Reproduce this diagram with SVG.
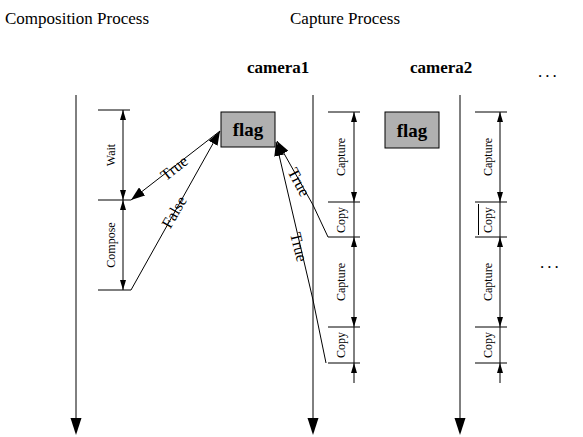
<svg xmlns="http://www.w3.org/2000/svg" width="583" height="437" viewBox="0 0 583 437">
<style>
.hdr{font-family:"Liberation Serif","Times New Roman",serif;font-size:17px;fill:#000}
.cam{font-family:"Liberation Serif","Times New Roman",serif;font-size:17px;font-weight:bold;fill:#000}
.lbl{font-family:"Liberation Serif","Times New Roman",serif;font-size:12px;fill:#000;text-anchor:middle;dominant-baseline:central}
.tf{font-family:"Liberation Serif","Times New Roman",serif;font-size:16px;fill:#000;text-anchor:middle;dominant-baseline:central}
.flagt{font-family:"Liberation Serif","Times New Roman",serif;font-size:19px;font-weight:bold;fill:#000;text-anchor:middle}
.dots{font-family:"Liberation Serif","Times New Roman",serif;font-size:17px;fill:#000;letter-spacing:3px}
.ln{stroke:#000;stroke-width:1;fill:none}
.dim{stroke:#000;stroke-width:1;fill:none;marker-start:url(#ah);marker-end:url(#ah)}
.flagbox{fill:#b0b0b0;stroke:#000;stroke-width:1}
</style>
<defs>
<marker id="ah" viewBox="0 0 10 6" refX="10" refY="3" markerWidth="10" markerHeight="6" markerUnits="userSpaceOnUse" orient="auto-start-reverse">
<path d="M0,0 L10,3 L0,6 z" fill="#000"/>
</marker>
<marker id="big" viewBox="0 0 14 10" refX="14" refY="5" markerWidth="14" markerHeight="10" markerUnits="userSpaceOnUse" orient="auto">
<path d="M0,0 L14,5 L0,10 z" fill="#000"/>
</marker>
</defs>

<g id="headers">
<text class="hdr" x="5" y="24">Composition Process</text>
<text class="hdr" x="290" y="24">Capture Process</text>
<text class="cam" x="247" y="73">camera1</text>
<text class="cam" x="410" y="73">camera2</text>
<text class="dots" x="538" y="77">...</text>
<text class="dots" x="540" y="268">...</text>
</g>

<g id="timelines">
<line class="ln" x1="76" y1="95" x2="76" y2="420"/>
<polygon points="70.5,418 81.5,418 76,435" fill="#000"/>
<line class="ln" x1="313" y1="95" x2="313" y2="420"/>
<polygon points="307.5,418 318.5,418 313,435" fill="#000"/>
<line class="ln" x1="460" y1="95" x2="460" y2="420"/>
<polygon points="454.5,418 465.5,418 460,435" fill="#000"/>
</g>

<g id="composition">
<line class="ln" x1="98" y1="110" x2="130" y2="110"/>
<line class="ln" x1="98" y1="200" x2="131" y2="200"/>
<line class="ln" x1="98" y1="290" x2="131" y2="290"/>
<line class="dim" x1="123" y1="110" x2="123" y2="200"/>
<line class="dim" x1="123" y1="200" x2="123" y2="290"/>
<text class="lbl" transform="translate(111,155) rotate(-90)">Wait</text>
<text class="lbl" transform="translate(111,245) rotate(-90)">Compose</text>
</g>

<g id="flag1">
<rect class="flagbox" x="221" y="112" width="54" height="35"/>
<text class="flagt" x="248" y="136">flag</text>
</g>
<g id="flag2">
<rect class="flagbox" x="385" y="112" width="54" height="36"/>
<text class="flagt" x="412" y="137">flag</text>
</g>

<g id="camera1-brackets">
<line class="ln" x1="328" y1="112" x2="360" y2="112"/>
<line class="ln" x1="328" y1="202" x2="360" y2="202"/>
<line class="ln" x1="328" y1="237" x2="360" y2="237"/>
<line class="ln" x1="328" y1="327" x2="360" y2="327"/>
<line class="ln" x1="328" y1="363" x2="360" y2="363"/>
<line class="dim" x1="354" y1="112" x2="354" y2="202"/>
<line class="ln" x1="354" y1="202" x2="354" y2="237"/>
<line class="dim" x1="354" y1="237" x2="354" y2="327"/>
<line class="ln" x1="354" y1="327" x2="354" y2="363"/>
<line class="ln" x1="354" y1="383" x2="354" y2="363" marker-end="url(#ah)"/>
<text class="lbl" transform="translate(341,157) rotate(-90)">Capture</text>
<text class="lbl" transform="translate(341,220) rotate(-90)">Copy</text>
<text class="lbl" transform="translate(341,282) rotate(-90)">Capture</text>
<text class="lbl" transform="translate(341,345) rotate(-90)">Copy</text>
</g>

<g id="camera2-brackets">
<line class="ln" x1="475" y1="112" x2="507" y2="112"/>
<line class="ln" x1="475" y1="202" x2="507" y2="202"/>
<line class="ln" x1="475" y1="237" x2="507" y2="237"/>
<line class="ln" x1="475" y1="327" x2="507" y2="327"/>
<line class="ln" x1="475" y1="363" x2="507" y2="363"/>
<line class="ln" x1="478.5" y1="204" x2="478.5" y2="235"/>
<line class="dim" x1="500" y1="112" x2="500" y2="202"/>
<line class="ln" x1="500" y1="202" x2="500" y2="237"/>
<line class="dim" x1="500" y1="237" x2="500" y2="327"/>
<line class="ln" x1="500" y1="327" x2="500" y2="363"/>
<line class="ln" x1="500" y1="383" x2="500" y2="363" marker-end="url(#ah)"/>
<text class="lbl" transform="translate(488,157) rotate(-90)">Capture</text>
<text class="lbl" transform="translate(488,220) rotate(-90)">Copy</text>
<text class="lbl" transform="translate(488,282) rotate(-90)">Capture</text>
<text class="lbl" transform="translate(488,345) rotate(-90)">Copy</text>
</g>

<g id="connectors">
<line class="ln" x1="220" y1="131" x2="131" y2="200" marker-end="url(#big)"/>
<line class="ln" x1="131" y1="290" x2="220" y2="131" marker-end="url(#big)"/>
<polyline class="ln" points="328,237 313,205 277,141" marker-end="url(#big)"/>
<polyline class="ln" points="326,363 313,300 276,142" marker-end="url(#big)"/>
<text class="tf" transform="translate(174,168) rotate(-38)">True</text>
<text class="tf" transform="translate(174,212) rotate(-60)">False</text>
<text class="tf" transform="translate(299,182) rotate(62)">True</text>
<text class="tf" transform="translate(299,247) rotate(76)">True</text>
</g>
</svg>
